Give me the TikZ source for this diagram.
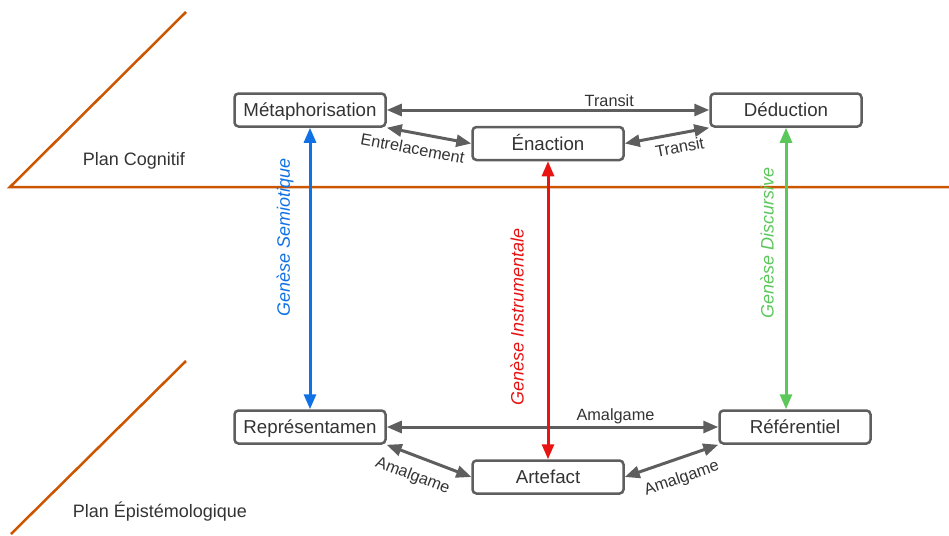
\documentclass[tikz,border=0pt]{standalone}
\usepackage{fontspec}
\setmainfont{Liberation Sans}
\usepackage{xcolor}
\usetikzlibrary{arrows.meta}

\definecolor{planorange}{HTML}{CC5500}
\definecolor{linkgray}{HTML}{5E5E5E}
\definecolor{textgray}{HTML}{333333}
\definecolor{semblue}{HTML}{1071E5}
\definecolor{instred}{HTML}{E81313}
\definecolor{discgreen}{HTML}{5CC85C}

\begin{document}
\begin{tikzpicture}[x=1pt, y=-1pt,
    box/.style={draw=linkgray, line width=2.5pt, rounded corners=4pt,
        minimum width=151pt, minimum height=33pt, inner sep=0pt,
        text height=13pt, text depth=0pt,
        text=textgray, font=\fontsize{18.7}{22}\selectfont},
    link/.style={line width=3pt,
        {Triangle[length=15pt,width=12pt]}-{Triangle[length=15pt,width=12pt]}},
    lab/.style={text=textgray, inner sep=2pt, font=\fontsize{16.3}{19}\selectfont},
    genese/.style={rotate=90, font=\itshape\fontsize{18}{22}\selectfont},
    plan/.style={text=textgray, font=\fontsize{18}{22}\selectfont}]

    \useasboundingbox (0,0) rectangle (949,535);

    % Plans
    \coordinate (pA) at (10,187);
    \coordinate (pB) at (186,12);
    \coordinate (pC) at (949,187);
    \coordinate (pD) at (186,361);
    \coordinate (pE) at (11,534);
    \draw[planorange, line width=2.5pt] (pB) -- (pA) -- (pC);
    \draw[planorange, line width=2.5pt] (pD) -- (pE);
    \node[plan] (cogn) at (134,161) {Plan Cognitif};
    \node[plan] (epist) at (160,512) {Plan Épistémologique};

    % Boxes
    \node[box] (meta)  at (310,110) {Métaphorisation};
    \node[box] (deduc) at (786,110) {Déduction};
    \node[box] (enac)  at (548,143.5) {Énaction};
    \node[box] (repr)  at (310,427) {Représentamen};
    \node[box] (refer) at (795,427) {Référentiel};
    \node[box] (arte)  at (548,477) {Artefact};

    % Cognitive links
    \draw[link, linkgray] (meta.east) -- node[lab, pos=0.69, above] {Transit} (deduc.west);
    \draw[link, linkgray] (meta.south east) -- node[lab, pos=0.34, sloped, below=6pt] {Entrelacement} (enac.west);
    \draw[link, linkgray] (enac.east) -- node[lab, pos=0.62, sloped, below=4pt] {Transit} (deduc.south west);

    % Epistemological links
    \draw[link, linkgray] (repr.east) -- node[lab, pos=0.69, above] {Amalgame} (refer.west);
    \draw[link, linkgray] (repr.south east) -- node[lab, pos=0.39, sloped, below=9pt] {Amalgame} (arte.west);
    \draw[link, linkgray] (arte.east) -- node[lab, pos=0.54, sloped, below=9pt] {Amalgame} (refer.south west);

    % Geneses between the two plans
    \coordinate (discend) at (deduc.south |- refer.north);
    \draw[link, semblue] (meta.south) -- (repr.north);
    \draw[link, instred] (enac.south) -- (arte.north);
    \draw[link, discgreen] (deduc.south) -- (discend);
    \node[genese, text=semblue] (gsem) at (285,237) {Genèse Semiotique};
    \node[genese, text=instred] (ginst) at (517,317) {Genèse Instrumentale};
    \node[genese, text=discgreen] (gdisc) at (767,243) {Genèse Discursive};

\end{tikzpicture}
\end{document}
